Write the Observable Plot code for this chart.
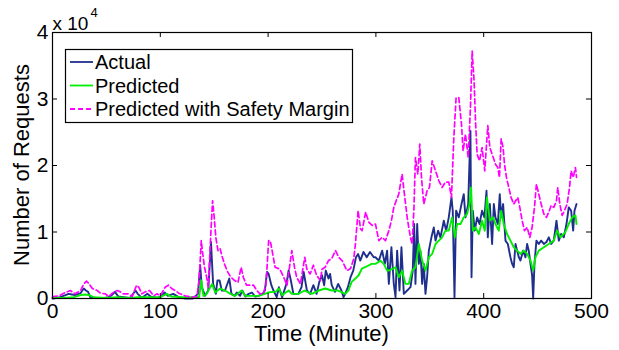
<!DOCTYPE html>
<html>
<head>
<meta charset="utf-8">
<script src="https://cdn.jsdelivr.net/npm/d3@7"></script>
<script src="https://cdn.jsdelivr.net/npm/@observablehq/plot@0.6"></script>
<style>
  html, body { margin: 0; padding: 0; background: #fff; }
  #chart { width: 619px; height: 350px; }
</style>
</head>
<body>
<div id="chart"></div>
<script>
// values in units of 10^4 requests; [minute, value]
const actual = [[0,0.0],[1,0.0],[7,0.02],[12,0.05],[15,0.07],[18,0.06],[21,0.05],[26,0.08],[29,0.15],[31,0.12],[33,0.1],[35,0.02],[41,0.01],[48,0.01],[52,0.02],[55,0.05],[58,0.1],[61,0.03],[66,0.02],[72,0.01],[77,0.12],[79,0.07],[83,0.01],[88,0.07],[91,0.03],[96,0.01],[100,0.02],[104,0.09],[107,0.04],[112,0.07],[117,0.02],[123,0.0],[130,0.0],[135,0.07],[137,0.5],[138.5,0.17],[141.5,0.04],[144.5,0.12],[147,0.85],[149,0.22],[151.5,0.07],[153,0.27],[155,0.27],[157,0.12],[160,0.12],[164,0.3],[166,0.07],[169,0.04],[171,0.09],[174,0.04],[176,0.12],[179,0.03],[182,0.07],[185,0.09],[188,0.03],[191,0.04],[195,0.07],[197,0.12],[199,0.4],[200.5,0.37],[203,0.2],[205,0.12],[208,0.02],[210,0.17],[213,0.02],[217,0.22],[219,0.42],[220.5,0.32],[223.5,0.07],[228,0.07],[231,0.17],[233,0.4],[236,0.12],[239,0.07],[242,0.2],[245,0.07],[247.5,0.25],[250,0.35],[252,0.2],[253.5,0.42],[256,0.3],[257.5,0.37],[259,0.2],[262,0.1],[265,0.22],[268,0.12],[270,0.02],[271.5,0.07],[274,0.17],[276.5,0.32],[279,0.42],[281.5,0.62],[283.5,0.67],[285.5,0.57],[288.5,0.7],[291.5,0.62],[294.5,0.7],[298,0.62],[299.6,0.62],[302.7,0.57],[305.8,0.72],[308.3,0.52],[310.4,0.72],[312,0.22],[314.4,0.77],[316.6,0.22],[318.2,0.02],[319.7,0.72],[321.9,0.12],[323.7,0.77],[325.9,0.07],[329,0.12],[332.1,0.17],[334.2,0.42],[335.5,1.12],[336.7,0.22],[338.3,1.12],[339.8,0.52],[341.3,0.72],[342.9,0.22],[344.4,0.52],[346,0.07],[347.5,0.32],[349.1,0.72],[351.5,0.92],[353.7,1.07],[355.3,0.87],[357.7,1.02],[359.9,0.92],[363,1.17],[365.2,1.02],[367.6,1.22],[370.1,1.52],[371.3,1.32],[372.9,0.02],[374.4,1.32],[376.9,1.22],[379.4,1.42],[381.5,1.57],[383.1,1.22],[385.6,1.42],[387.7,2.52],[388.7,0.32],[389.9,1.32],[391.7,1.02],[393.9,1.22],[396.1,1.12],[398.5,1.32],[400.7,1.22],[402.6,1.62],[403.8,0.92],[405.7,1.42],[407.8,0.82],[409.4,1.42],[410.9,1.22],[413.1,1.12],[414.9,1.57],[416.2,1.22],[418,1.42],[420.2,0.87],[422.4,0.82],[424.8,0.62],[426.4,0.52],[427.9,0.47],[429.5,0.82],[431,0.72],[432.6,0.62],[434.1,0.57],[436.6,0.72],[438.7,0.62],[440.3,0.82],[441.8,0.72],[443.4,0.52],[444.9,0.35],[445.9,0.0],[447.1,0.52],[448.9,0.87],[451.1,0.82],[453.3,0.87],[455.8,0.82],[458.2,0.85],[460.4,0.92],[462.6,0.82],[465,0.87],[467.5,1.17],[469.7,0.87],[471.8,0.97],[474.3,0.92],[476.8,1.12],[478.9,1.37],[481.1,1.32],[483,1.02],[484.2,1.32],[486.1,1.42]];

const predicted = [[0,0.01],[10,0.01],[20,0.02],[26,0.05],[30,0.06],[34,0.05],[38,0.02],[50,0.01],[60,0.02],[70,0.01],[80,0.02],[90,0.02],[100,0.02],[106,0.07],[110,0.03],[120,0.02],[130,0.02],[136,0.02],[138,0.27],[140,0.04],[143,0.07],[148,0.22],[151,0.09],[155.5,0.15],[160,0.12],[165,0.07],[169.5,0.04],[175.5,0.12],[178.5,0.04],[185,0.04],[191,0.04],[197,0.07],[200,0.09],[204,0.1],[207,0.1],[210,0.15],[213,0.05],[219,0.12],[222,0.07],[228,0.07],[234,0.12],[240.5,0.07],[247,0.12],[253,0.15],[259,0.12],[265,0.12],[271.5,0.07],[274.5,0.12],[277.5,0.25],[281,0.3],[284,0.35],[287,0.45],[290,0.47],[296,0.52],[299.6,0.52],[304.2,0.57],[307.3,0.52],[310.4,0.42],[312,0.42],[318.2,0.47],[321.2,0.32],[324.3,0.42],[327.4,0.22],[330.5,0.22],[333.6,0.42],[336.7,0.47],[339.8,0.82],[342.9,0.57],[346,0.42],[349.1,0.62],[352.2,0.67],[355.3,0.82],[358.4,0.87],[361.4,0.92],[364.5,1.02],[367.6,1.02],[370.7,1.22],[373.2,0.92],[375.4,1.12],[378.5,1.12],[381.5,1.22],[384.6,1.27],[386.8,1.42],[388.3,1.67],[389.9,1.02],[392.4,1.07],[395.5,0.97],[398.5,1.17],[401,1.02],[403,1.52],[405.7,1.17],[408.7,1.22],[410.9,1.12],[414,1.02],[416.2,1.32],[418.6,1.12],[421.7,0.97],[424.8,0.87],[427.9,0.77],[431,0.72],[434.1,0.67],[437.2,0.72],[440.3,0.67],[443.4,0.57],[445.9,0.42],[448,0.62],[451.1,0.72],[455.8,0.77],[460.4,0.82],[465,0.87],[468.1,1.02],[471.2,0.92],[475.8,1.0],[478.9,1.12],[482,1.22],[485.1,1.25],[486.1,1.12]];

const safetyMargin = [[0,0.02],[1,0.03],[6,0.04],[10.5,0.08],[13.5,0.1],[16.5,0.12],[21,0.07],[26,0.12],[29,0.22],[31.5,0.26],[33.5,0.23],[37,0.15],[41.5,0.12],[44.5,0.08],[49,0.07],[52,0.03],[57,0.1],[60,0.12],[63,0.1],[65.5,0.07],[70,0.07],[74,0.03],[78,0.2],[80,0.17],[83,0.07],[86,0.1],[90,0.12],[94,0.04],[97,0.07],[100,0.04],[104.5,0.17],[107.5,0.2],[110.5,0.15],[114,0.12],[117,0.08],[123,0.04],[129,0.02],[134,0.03],[136,0.27],[138,0.87],[139,0.72],[141,0.47],[143,0.32],[144.5,0.17],[147,1.02],[148.5,1.47],[150,1.22],[151.5,0.92],[153.5,0.72],[155.5,0.75],[157,0.65],[159.5,0.52],[162.5,0.4],[165.5,0.32],[169,0.27],[172,0.24],[175,0.47],[177,0.32],[180,0.2],[186.5,0.2],[189.5,0.12],[192.5,0.07],[195.5,0.07],[198,0.2],[200.5,0.87],[202,0.87],[203.5,0.74],[206.5,0.47],[211,0.44],[214.5,0.32],[217.5,0.2],[222,0.72],[224.5,0.47],[226.5,0.32],[230,0.22],[234,0.62],[236,0.44],[239,0.37],[242,0.5],[245,0.35],[248.5,0.27],[250,0.44],[253,0.47],[256,0.57],[259,0.6],[262.5,0.72],[265.5,0.62],[268.7,0.57],[273,0.42],[276.5,0.45],[279.5,0.6],[281,0.82],[283.5,1.32],[285.7,1.05],[287.2,1.02],[290.5,1.3],[293.4,1.15],[296.5,1.1],[299.6,1.12],[302.7,0.87],[305.8,0.92],[308.9,0.87],[312,1.02],[314.4,1.17],[316.6,1.37],[318.8,1.47],[321.2,1.57],[324.3,1.87],[326.8,1.52],[329,1.22],[332,0.92],[333.6,0.82],[335.2,1.32],[336.7,2.12],[338.9,1.87],[340.7,2.32],[342.3,1.82],[344.4,1.42],[347.5,1.62],[349.7,1.67],[352.2,2.07],[355.3,1.92],[358.4,1.77],[361.4,1.67],[364.5,1.75],[367.6,1.75],[370.1,1.52],[372.3,2.42],[374.4,3.02],[376.9,3.02],[379.4,2.62],[380.9,2.22],[383.1,2.47],[385.6,2.12],[387.7,2.87],[389.3,3.72],[391.1,3.27],[392.4,2.67],[393.9,2.17],[396.1,2.07],[398.5,2.27],[401,1.92],[403.8,2.6],[405.7,2.27],[407.8,2.17],[410.9,2.02],[413.1,1.97],[414.6,1.82],[416.2,2.4],[418,2.27],[419.3,2.02],[421.1,1.82],[423.3,1.67],[425.4,1.52],[427.9,1.42],[431.6,1.52],[433.5,1.37],[435.7,1.17],[437.8,1.02],[440.3,1.07],[442.8,0.92],[444.9,1.07],[447.1,1.37],[448.9,1.72],[451.1,1.57],[453.3,1.42],[455.8,1.27],[458.2,1.22],[460.4,1.3],[462.6,1.4],[465,1.37],[467.5,1.47],[468.7,1.67],[470.6,1.42],[472.8,1.25],[474.9,1.32],[477.4,1.42],[479.6,1.67],[481.1,1.92],[483,1.82],[485.1,1.97],[486.1,1.82]];

const xTicks = [0, 100, 200, 300, 400, 500];
const yTicks = [0, 1, 2, 3, 4];
const seriesNames = ["Actual", "Predicted", "Predicted with Safety Margin"];
const seriesColors = ["#1f2f8c", "#00ee00", "#ff00ff"];
const xLabel = "Time (Minute)";
const yLabel = "Number of Requests";

const W = 619, H = 350, mL = 52, mR = 28, mT = 32, mB = 52;
const innerW = W - mL - mR, innerH = H - mT - mB;
const font = "'Liberation Sans', Arial, Helvetica, sans-serif";

const chart = Plot.plot({
  width: W, height: H,
  marginLeft: mL, marginRight: mR, marginTop: mT, marginBottom: mB,
  style: { fontFamily: font, fontSize: "21px", background: "#fff", color: "#000", overflow: "visible" },
  x: { domain: [0, 500] },
  y: { domain: [0, 4] },
  marks: [
    Plot.line(actual, { x: d => d[0], y: d => d[1], stroke: seriesColors[0], strokeWidth: 1.9 }),
    Plot.line(predicted, { x: d => d[0], y: d => d[1], stroke: seriesColors[1], strokeWidth: 1.9 }),
    Plot.line(safetyMargin, { x: d => d[0], y: d => d[1], stroke: seriesColors[2], strokeWidth: 1.7, strokeDasharray: "5,3" }),
    Plot.frame({ stroke: "#000", strokeWidth: 1.2 }),
    Plot.ruleX(xTicks, { x: d => d, insetTop: innerH - 5, stroke: "#000" }),
    Plot.ruleX(xTicks, { x: d => d, insetBottom: innerH - 5, stroke: "#000" }),
    Plot.ruleY(yTicks, { y: d => d, insetRight: innerW - 5, stroke: "#000" }),
    Plot.ruleY(yTicks, { y: d => d, insetLeft: innerW - 5, stroke: "#000" }),
    Plot.axisX(xTicks, { tickSize: 0, tickPadding: 5, fontSize: 21, label: null }),
    Plot.axisY(yTicks, { tickSize: 0, tickPadding: 4, fontSize: 21, label: null, tickFormat: d => String(d) }),
    Plot.text(["x 10"], { text: d => d, frameAnchor: "top-left", textAnchor: "start", lineAnchor: "bottom", dx: 0, dy: -3, fontSize: 19 }),
    Plot.text(["4"], { text: d => d, frameAnchor: "top-left", textAnchor: "start", lineAnchor: "bottom", dx: 38, dy: -16, fontSize: 13 })
  ]
});

const svg = d3.select(chart);
// axis titles
svg.append("text").attr("x", mL + innerW / 2).attr("y", 341)
  .attr("text-anchor", "middle").attr("font-family", font).attr("font-size", 22).attr("fill", "#000")
  .text(xLabel);
svg.append("text").attr("transform", `translate(29,${mT + innerH / 2}) rotate(-90)`)
  .attr("text-anchor", "middle").attr("font-family", font).attr("font-size", 22).attr("fill", "#000")
  .text(yLabel);

// legend (MATLAB-style box)
const lg = svg.append("g").attr("font-family", font).attr("font-size", 20).attr("text-anchor", "start");
lg.append("rect").attr("x", 65.5).attr("y", 49.5).attr("width", 287).attr("height", 73)
  .attr("fill", "#fff").attr("stroke", "#000").attr("stroke-width", 1.2);
seriesNames.forEach((name, i) => {
  const cy = 62 + i * 23.5;
  lg.append("line").attr("x1", 70).attr("x2", 93).attr("y1", cy).attr("y2", cy)
    .attr("stroke", seriesColors[i]).attr("stroke-width", 1.8)
    .attr("stroke-dasharray", i === 2 ? "5,3" : null);
  lg.append("text").attr("x", 95).attr("y", cy).attr("dy", "0.35em").attr("text-anchor", "start")
    .attr("fill", "#000").text(name);
});

document.getElementById("chart").appendChild(chart);
</script>
</body>
</html>
